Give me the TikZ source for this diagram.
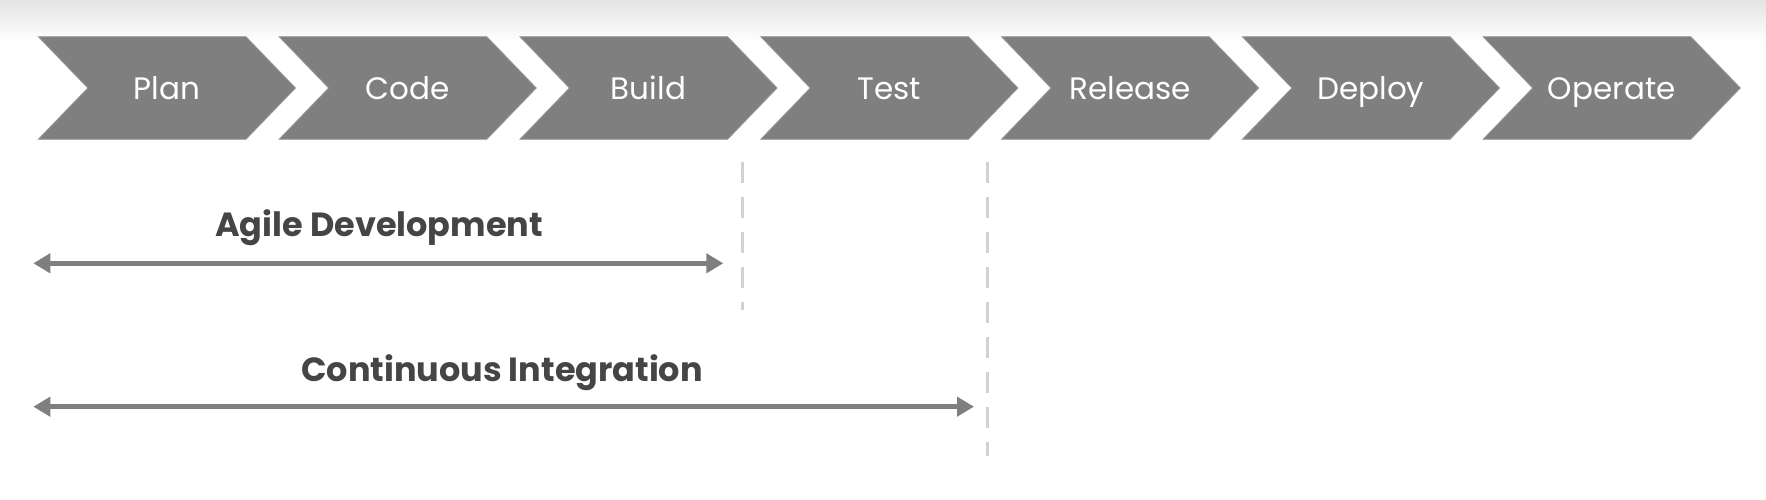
\documentclass[tikz,border=0pt]{standalone}
\usepackage{fontspec}
\setmainfont{Poppins}
\usetikzlibrary{arrows.meta}
\definecolor{chev}{HTML}{7F7F7F}
\definecolor{chevedge}{HTML}{999999}
\definecolor{darktext}{HTML}{454545}
\definecolor{dashgray}{HTML}{D2D2D2}
\definecolor{topgray}{HTML}{E4E4E4}
\tikzset{
  chevshape/.style={fill=chev, draw=chevedge, line width=0.8pt},
  chevlabel/.style={text=white, font=\fontsize{31}{31}\selectfont, inner sep=0pt, anchor=base},
  spanlabel/.style={text=darktext, font=\fontsize{33.5}{33.5}\selectfont\bfseries, inner sep=0pt, anchor=base},
  spanarrow/.style={draw=chev, line width=5pt, {Triangle[length=17pt,width=19pt]}-{Triangle[length=17pt,width=19pt]}},
  milestone/.style={draw=dashgray, line width=3.5pt, dash pattern=on 21pt off 14pt},
}
\begin{document}
\begin{tikzpicture}[x=1pt,y=-1pt]
\useasboundingbox (0,0) rectangle (1766,500);
\fill[white] (0,0) rectangle (1766,500);
\shade[top color=topgray, bottom color=white] (0,0) rectangle (1766,42);
% chevrons
\foreach \lab [count=\i from 0] in {Plan,Code,Build,Test,Release,Deploy,Operate}{
  \pgfmathsetmacro{\L}{38.3+240.8*\i}
  \path[chevshape] (\L,36.7) -- ++(207.7,0) -- ++(49.5,51.3) -- ++(-49.5,51.3) -- ++(-207.7,0) -- ++(49.5,-51.3) -- cycle;
  \node[chevlabel] (s\i) at (\L+128.6,100) {\lab};
}
% milestone dashed lines
\coordinate (m1a) at (742.3,161.7);
\coordinate (m1b) at (742.3,310);
\coordinate (m2a) at (987.3,161.7);
\coordinate (m2b) at (987.3,456);
\draw[milestone] (m1a) -- (m1b);
\draw[milestone] (m2a) -- (m2b);
% spans
\node[spanlabel] (agile) at (379,236.7) {Agile Development};
\coordinate (a1) at (33.3,263.3);
\coordinate (a2) at (723.3,263.3);
\draw[spanarrow] (a1) -- (a2);
\node[spanlabel] (ci) at (502,381.7) {Continuous Integration};
\coordinate (c1) at (33.3,406.7);
\coordinate (c2) at (974,406.7);
\draw[spanarrow] (c1) -- (c2);
\end{tikzpicture}
\end{document}
